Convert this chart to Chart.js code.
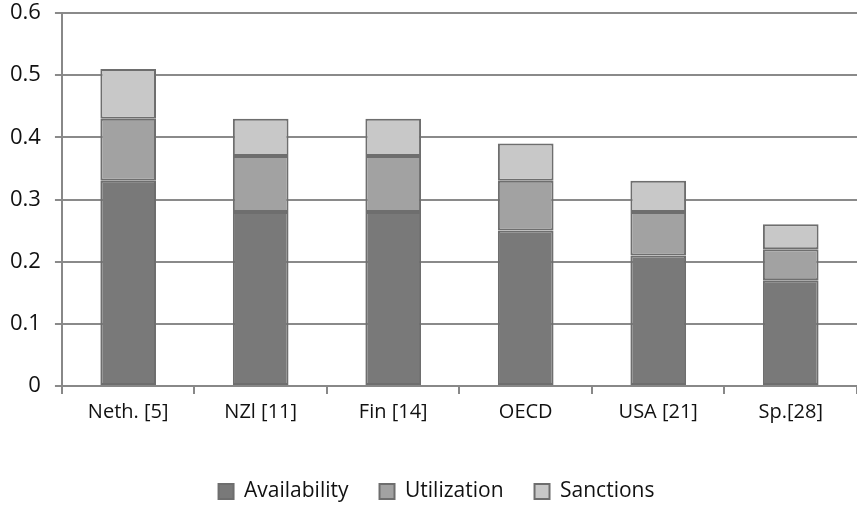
<!DOCTYPE html>
<html>
<head>
<meta charset="utf-8">
<script src="https://cdn.jsdelivr.net/npm/chart.js@4"></script>
<style>
  html, body { margin: 0; padding: 0; background: #fff; }
  #wrap { width: 857px; height: 505px; position: relative; }
</style>
</head>
<body>
<div id="wrap"><canvas id="c" width="857" height="505"></canvas></div>
<script>
// Index components per country
const categories = ['Neth. [5]', 'NZl [11]', 'Fin [14]', 'OECD', 'USA [21]', 'Sp.[28]'];
const availability = [0.33, 0.28, 0.28, 0.25, 0.21, 0.17];
const utilization  = [0.10, 0.09, 0.09, 0.08, 0.07, 0.05];
const sanctions    = [0.08, 0.06, 0.06, 0.06, 0.05, 0.04];
const yTicks = [0, 0.1, 0.2, 0.3, 0.4, 0.5, 0.6];

const FONT = '"Open Sans", "Liberation Sans", sans-serif';
const EDGE = '#6e6e6e';

function series(label, data, color) {
  return {
    label, data,
    backgroundColor: color,
    borderColor: EDGE,
    borderWidth: 2,
    borderSkipped: false,
    categoryPercentage: 1.0,
    barPercentage: 0.42
  };
}

// Nudge the legend row a little to the right of the canvas centre
const legendShift = {
  id: 'legendShift',
  afterLayout(chart) {
    if (chart.legend) { chart.legend.left += 10; chart.legend.right += 10; }
  }
};

new Chart(document.getElementById('c'), {
  type: 'bar',
  data: {
    labels: categories,
    datasets: [
      series('Availability', availability, '#797979'),
      series('Utilization', utilization, '#a2a2a2'),
      series('Sanctions', sanctions, '#c8c8c8')
    ]
  },
  plugins: [legendShift],
  options: {
    responsive: false,
    animation: false,
    devicePixelRatio: 1,
    layout: { padding: { top: 13, right: 0, left: -4, bottom: -7 } },
    plugins: {
      tooltip: { enabled: false },
      legend: {
        position: 'bottom',
        labels: {
          font: { family: FONT, size: 21 },
          color: '#111',
          boxWidth: 15,
          boxHeight: 15,
          padding: 31,
          useBorderRadius: false
        }
      }
    },
    scales: {
      x: {
        stacked: true,
        afterFit: (scale) => { scale.height = 64; },
        grid: {
          offset: true,
          drawOnChartArea: false,
          drawTicks: true,
          tickLength: 8,
          color: '#888',
          lineWidth: 2
        },
        border: { color: '#888', width: 2 },
        ticks: {
          font: { family: FONT, size: 20 },
          color: '#111',
          padding: 6,
          maxRotation: 0
        }
      },
      y: {
        stacked: true,
        min: 0,
        max: 0.6,
        afterBuildTicks: (axis) => { axis.ticks = yTicks.map(v => ({ value: v })); },
        afterFit: (scale) => { scale.paddingTop = 0; scale.paddingBottom = 0; },
        grid: {
          color: '#8a8a8a',
          lineWidth: 2,
          tickLength: 7
        },
        border: { color: '#888', width: 2 },
        ticks: {
          font: { family: FONT, size: 22 },
          color: '#111',
          padding: 14,
          callback: (v) => String(Math.round(v * 10) / 10)
        }
      }
    }
  }
});
</script>
</body>
</html>
